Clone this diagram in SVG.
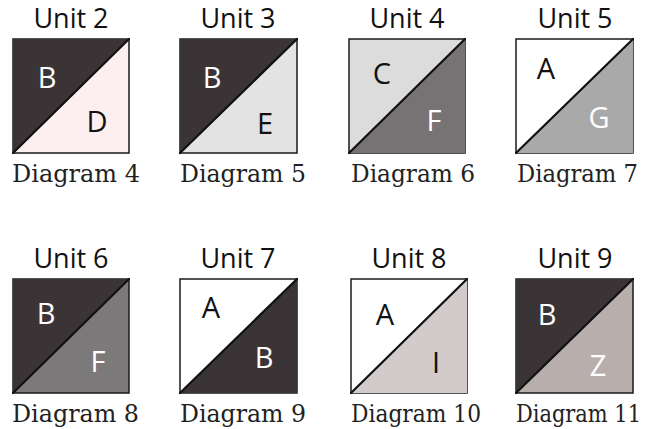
<svg xmlns="http://www.w3.org/2000/svg" width="658" height="429" viewBox="0 0 658 429">
<style>
.sq{stroke:#1a1a1a;stroke-width:1.5}
.dg{stroke:#111;stroke-width:2.2;stroke-linecap:round}
.u{font-family:"Open Sans","DejaVu Sans",sans-serif;font-size:27px;fill:#111;text-anchor:middle}
.l{font-family:"Open Sans","DejaVu Sans",sans-serif;font-size:29px;text-anchor:middle}
.w{fill:#fff}.k{fill:#111}
.d{font-family:"DejaVu Serif","Liberation Serif",serif;font-size:23.5px;fill:#222}
</style>
<rect width="658" height="429" fill="#fff"/>
<g id="unit2">
<text class="u" x="71" y="28">Unit 2</text>
<rect class="sq" x="13" y="39" width="116" height="114" fill="#fdeef0"/>
<polygon points="13,39 129,39 13,153" fill="#3a3436"/>
<line class="dg" x1="13" y1="153" x2="129" y2="39"/>
<text class="l w" x="47" y="88">B</text>
<text class="l k" x="97" y="132">D</text>
<text class="d" x="12" y="182" textLength="128" lengthAdjust="spacingAndGlyphs">Diagram 4</text>
</g>
<g id="unit3">
<text class="u" x="238" y="28">Unit 3</text>
<rect class="sq" x="180" y="39" width="117" height="114" fill="#e3e3e3"/>
<polygon points="180,39 297,39 180,153" fill="#3a3436"/>
<line class="dg" x1="180" y1="153" x2="297" y2="39"/>
<text class="l w" x="212" y="88">B</text>
<text class="l k" x="265" y="134">E</text>
<text class="d" x="180" y="182" textLength="126" lengthAdjust="spacingAndGlyphs">Diagram 5</text>
</g>
<g id="unit4">
<text class="u" x="407" y="28">Unit 4</text>
<rect class="sq" x="349" y="39" width="116" height="114" fill="#dcdcdc"/>
<polygon points="465,39 465,153 349,153" fill="#777273"/>
<line class="dg" x1="349" y1="153" x2="465" y2="39"/>
<text class="l k" x="382" y="84">C</text>
<text class="l w" x="434" y="131">F</text>
<text class="d" x="351" y="182" textLength="124" lengthAdjust="spacingAndGlyphs">Diagram 6</text>
</g>
<g id="unit5">
<text class="u" x="575" y="28">Unit 5</text>
<rect class="sq" x="516" y="39" width="117" height="114" fill="#fff"/>
<polygon points="633,39 633,153 516,153" fill="#a9a9a9"/>
<line class="dg" x1="516" y1="153" x2="633" y2="39"/>
<text class="l k" x="546" y="79">A</text>
<text class="l w" x="599" y="128">G</text>
<text class="d" x="517" y="182" textLength="121" lengthAdjust="spacingAndGlyphs">Diagram 7</text>
</g>
<g id="unit6">
<text class="u" x="71" y="268">Unit 6</text>
<rect class="sq" x="13" y="279" width="116" height="114" fill="#7c797a"/>
<polygon points="13,279 129,279 13,393" fill="#3a3436"/>
<line class="dg" x1="13" y1="393" x2="129" y2="279"/>
<text class="l w" x="46" y="324">B</text>
<text class="l w" x="98" y="372">F</text>
<text class="d" x="12" y="422" textLength="127" lengthAdjust="spacingAndGlyphs">Diagram 8</text>
</g>
<g id="unit7">
<text class="u" x="238" y="268">Unit 7</text>
<rect class="sq" x="180" y="279" width="117" height="114" fill="#fff"/>
<polygon points="297,279 297,393 180,393" fill="#3a3436"/>
<line class="dg" x1="180" y1="393" x2="297" y2="279"/>
<text class="l k" x="211" y="318">A</text>
<text class="l w" x="264" y="368">B</text>
<text class="d" x="180" y="422" textLength="126" lengthAdjust="spacingAndGlyphs">Diagram 9</text>
</g>
<g id="unit8">
<text class="u" x="409" y="268">Unit 8</text>
<rect class="sq" x="351" y="279" width="116" height="114" fill="#fff"/>
<polygon points="467,279 467,393 351,393" fill="#d2cacb"/>
<line class="dg" x1="351" y1="393" x2="467" y2="279"/>
<text class="l k" x="385" y="325">A</text>
<text class="l k" x="436" y="373">I</text>
<text class="d" x="351" y="422" textLength="130" lengthAdjust="spacingAndGlyphs">Diagram 10</text>
</g>
<g id="unit9">
<text class="u" x="575" y="268">Unit 9</text>
<rect class="sq" x="516" y="279" width="117" height="114" fill="#b8aeac"/>
<polygon points="516,279 633,279 516,393" fill="#3a3436"/>
<line class="dg" x1="516" y1="393" x2="633" y2="279"/>
<text class="l w" x="547" y="325">B</text>
<text class="l w" x="598" y="376">Z</text>
<text class="d" x="516" y="422" textLength="125" lengthAdjust="spacingAndGlyphs">Diagram 11</text>
</g>
<g id="connectors"/>
</svg>
